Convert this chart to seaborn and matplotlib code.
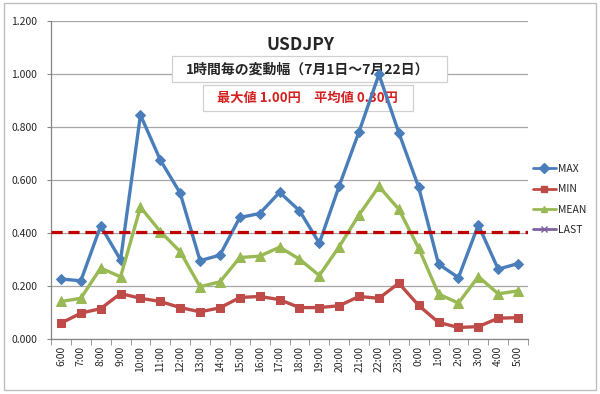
import pandas as pd
import matplotlib
matplotlib.use("Agg")
import matplotlib.pyplot as plt
import seaborn as sns
from matplotlib.lines import Line2D
from matplotlib.patches import Rectangle

# 時間帯ごとの変動幅 (USDJPY)
hours = ["6:00", "7:00", "8:00", "9:00", "10:00", "11:00", "12:00", "13:00",
         "14:00", "15:00", "16:00", "17:00", "18:00", "19:00", "20:00", "21:00",
         "22:00", "23:00", "0:00", "1:00", "2:00", "3:00", "4:00", "5:00"]
max_vals = [0.226, 0.219, 0.426, 0.298, 0.845, 0.675, 0.550, 0.295,
            0.316, 0.458, 0.473, 0.553, 0.484, 0.361, 0.577, 0.782,
            0.998, 0.778, 0.572, 0.282, 0.231, 0.430, 0.263, 0.284]
min_vals = [0.059, 0.097, 0.114, 0.171, 0.153, 0.141, 0.118, 0.102,
            0.117, 0.156, 0.160, 0.148, 0.118, 0.118, 0.125, 0.160,
            0.153, 0.210, 0.126, 0.062, 0.043, 0.046, 0.078, 0.080]
mean_vals = [0.141, 0.153, 0.267, 0.234, 0.497, 0.405, 0.329, 0.197,
             0.215, 0.307, 0.312, 0.346, 0.301, 0.239, 0.348, 0.468,
             0.575, 0.489, 0.342, 0.169, 0.135, 0.235, 0.170, 0.181]
last_level = 0.405

yticks = [0.0, 0.2, 0.4, 0.6, 0.8, 1.0, 1.2]
title = "USDJPY"
subtitle = "1時間毎の変動幅（7月1日～7月22日）"
summary = "最大値 1.00円　平均値 0.30円"

sns.set_style("white")
plt.rcParams['font.family'] = ['Noto Sans CJK JP', 'DejaVu Sans']

colors = {"MAX": "#4A7EBB", "MIN": "#BE4B48", "MEAN": "#98B954", "LAST": "#7D60A0"}
markers = {"MAX": "D", "MIN": "s", "MEAN": "^"}
msize = {"MAX": 5.5, "MIN": 6, "MEAN": 6.5}

rows = []
for name, vals in [("MAX", max_vals), ("MIN", min_vals), ("MEAN", mean_vals)]:
    for i, v in enumerate(vals):
        rows.append({"pos": i, "value": v, "series": name})
df = pd.DataFrame(rows)

fig = plt.figure(figsize=(6, 3.94), dpi=100)
fig.patches.append(Rectangle((0.006, 0.01), 0.988, 0.982, transform=fig.transFigure,
                             fill=False, edgecolor="#BFBFBF", linewidth=1))
ax = fig.add_axes([0.085, 0.14, 0.795, 0.807])
ax.set_axisbelow(True)

for name in ["MAX", "MIN", "MEAN"]:
    sns.lineplot(data=df[df.series == name], x="pos", y="value", ax=ax,
                 color=colors[name], marker=markers[name], markersize=msize[name],
                 markeredgecolor=colors[name], linewidth=2.4, label=name, zorder=3)

ax.axhline(last_level, color="#C00000", linestyle=(0, (3.5, 1.8)), linewidth=2.3, zorder=5)

# タイトルと注記の枠（線の下に置く）
ax.add_patch(Rectangle((0.2867, 0.7919), 0.4583, 0.066, transform=fig.transFigure,
                       facecolor="white", edgecolor="#D0D0D0", linewidth=0.9, zorder=1.5))
ax.add_patch(Rectangle((0.3383, 0.7183), 0.35, 0.066, transform=fig.transFigure,
                       facecolor="white", edgecolor="#D0D0D0", linewidth=0.9, zorder=1.5))
ax.text(0.5, 0.886, title, transform=fig.transFigure, ha="center", va="center",
        fontsize=12.5, fontweight="bold", zorder=1.6)
ax.text(0.513, 0.824, subtitle, transform=fig.transFigure, ha="center", va="center",
        fontsize=10, fontweight="bold", zorder=1.6)
ax.text(0.513, 0.751, summary, transform=fig.transFigure, ha="center", va="center",
        fontsize=9.5, fontweight="bold", color="#D42020", zorder=1.6)

ax.set_xlim(-0.5, len(hours) - 0.5)
ax.set_ylim(0, 1.2)
ax.set_yticks(yticks)
ax.set_yticklabels([f"{t:.3f}" for t in yticks], fontsize=7.5)
ax.yaxis.grid(True, color="#A6A6A6", linewidth=0.9)
ax.set_xticks(range(len(hours)))
ax.set_xticklabels(hours, rotation=90, fontsize=7.5)
ax.set_xticks([i + 0.5 for i in range(-1, len(hours))], minor=True)
ax.tick_params(axis="x", which="major", length=0, pad=5)
ax.tick_params(axis="x", which="minor", length=4, color="#868686", direction="out", bottom=True)
ax.tick_params(axis="y", length=3, color="#868686", direction="out", left=True, pad=7)
ax.set_xlabel("")
ax.set_ylabel("")
for s in ["top", "right"]:
    ax.spines[s].set_visible(False)
for s in ["left", "bottom"]:
    ax.spines[s].set_color("#868686")
    ax.spines[s].set_linewidth(0.9)

handles = [Line2D([], [], color=colors[n], marker=m, markersize=5, linewidth=2)
           for n, m in [("MAX", "D"), ("MIN", "s"), ("MEAN", "^"), ("LAST", "x")]]
ax.legend(handles, ["MAX", "MIN", "MEAN", "LAST"], loc="upper left",
          bbox_to_anchor=(0.99, 0.58), frameon=False, fontsize=7.5,
          handlelength=2.2, handletextpad=0.2, labelspacing=1.0)

fig.savefig("out.png", dpi=100)
